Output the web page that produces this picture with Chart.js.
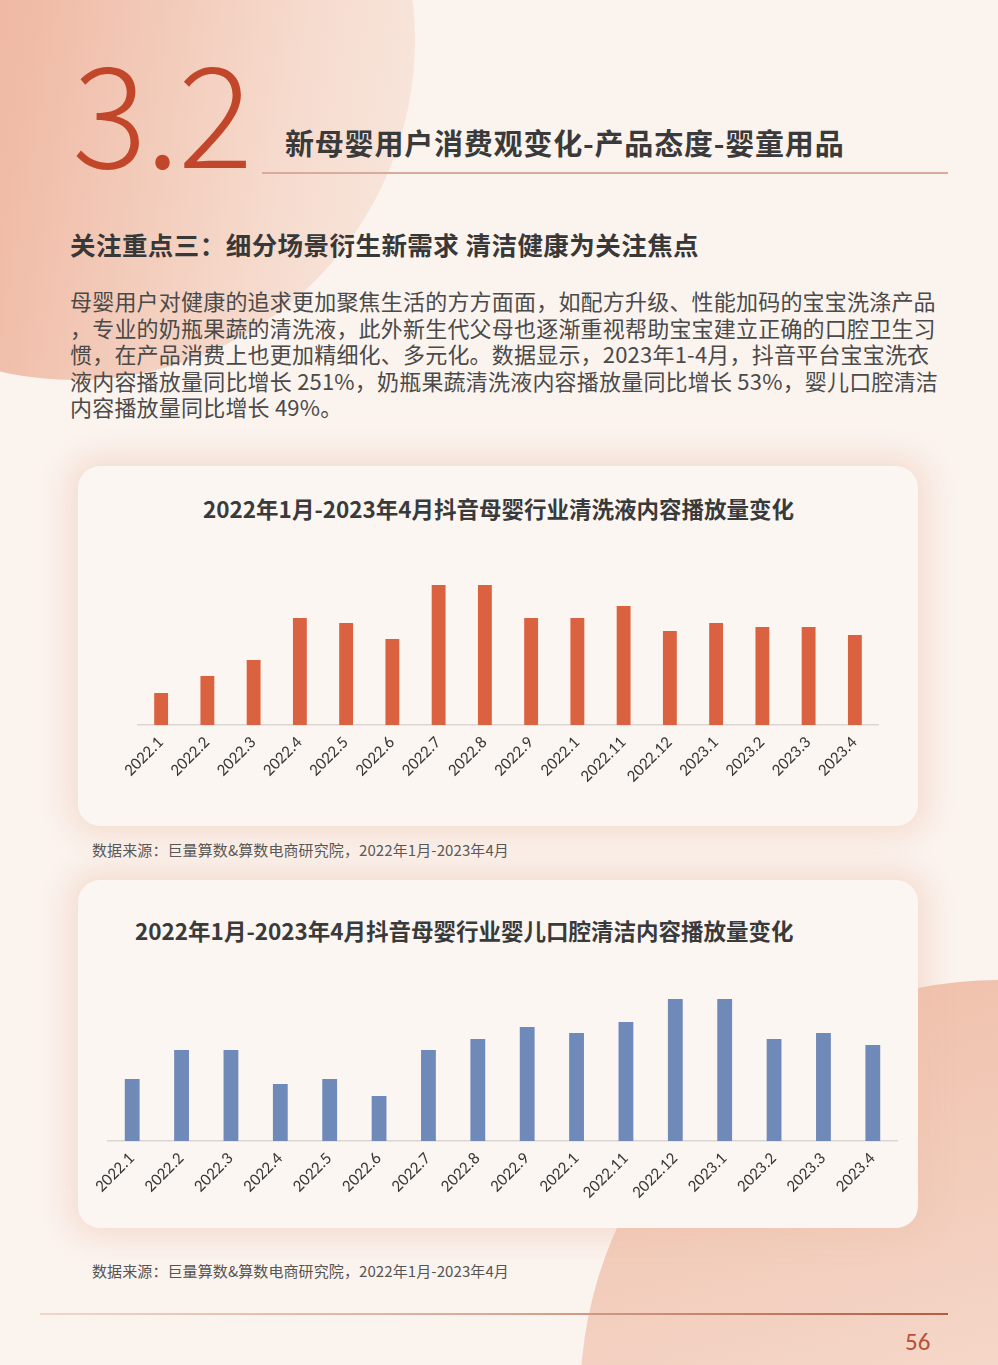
<!DOCTYPE html>
<html>
<head>
<meta charset="utf-8">
<script src="https://cdn.jsdelivr.net/npm/chart.js@4"></script>
<style>
body{margin:0;background:#fbf3ee;}
#page{position:relative;width:998px;height:1365px;overflow:hidden;background:#fbf3ee;font-family:"Noto Sans CJK SC",sans-serif;}
.blob1{position:absolute;left:-265px;top:-300px;width:680px;height:680px;border-radius:50%;
  background:linear-gradient(100deg,#eba58c 0%,#f0bca7 45%,#f6dccf 80%,#f9e8df 100%);}
.blob2{position:absolute;left:580px;top:980px;width:840px;height:840px;border-radius:50%;
  background:linear-gradient(165deg,#efbda6 0%,#f3d0c0 35%,#f8e4d9 70%);}
.big{position:absolute;left:72px;top:27px;font-family:"Noto Sans CJK SC",sans-serif;font-weight:300;font-size:140px;line-height:160px;color:#c2462a;letter-spacing:-2px;}
.h1{position:absolute;left:285px;top:122px;font-size:29px;font-weight:bold;color:#3a3a3a;line-height:40px;white-space:nowrap;letter-spacing:0.8px;}
.hline{position:absolute;left:262px;top:172px;width:686px;height:2px;background:#d9ab99;}
.h2{position:absolute;left:70px;top:227px;font-size:25.5px;font-weight:bold;color:#383838;line-height:34px;white-space:nowrap;letter-spacing:0.45px;}
.para{position:absolute;left:70px;top:287px;font-size:22px;line-height:26.5px;color:#4a4a4a;white-space:nowrap;letter-spacing:0.2px;}
.card{position:absolute;left:78px;width:840px;border-radius:22px;background:#fcf6f2;
  box-shadow:0 0 28px 10px rgba(238,196,172,0.45);}
.ctitle{position:absolute;font-size:22.5px;font-weight:bold;color:#3a3a3a;white-space:nowrap;line-height:30px;}
.src{position:absolute;left:92px;font-size:15px;color:#555;white-space:nowrap;line-height:20px;letter-spacing:0.1px;}
canvas{position:absolute;}
.bline{position:absolute;left:40px;top:1313px;width:908px;height:2px;background:linear-gradient(90deg,#efd6cb,#d8a894 50%,#b35c40);}
.pnum{position:absolute;left:905px;top:1326px;font-family:Carlito,Lato,sans-serif;font-size:25px;color:#b5523a;line-height:32px;}
</style>
</head>
<body>
<div id="page">
  <div class="blob1"></div>
  <div class="blob2"></div>
  <div class="big">3.2</div>
  <div class="h1">新母婴用户消费观变化-产品态度-婴童用品</div>
  <div class="hline"></div>
  <div class="h2">关注重点三：细分场景衍生新需求 清洁健康为关注焦点</div>
  <div class="para">母婴用户对健康的追求更加聚焦生活的方方面面，如配方升级、性能加码的宝宝洗涤产品<br>，专业的奶瓶果蔬的清洗液，此外新生代父母也逐渐重视帮助宝宝建立正确的口腔卫生习<br>惯，在产品消费上也更加精细化、多元化。数据显示，2023年1-4月，抖音平台宝宝洗衣<br>液内容播放量同比增长 251%，奶瓶果蔬清洗液内容播放量同比增长 53%，婴儿口腔清洁<br>内容播放量同比增长 49%。</div>

  <div class="card" style="top:466px;height:360px;"></div>
  <div class="ctitle" style="left:203px;top:493px;">2022年1月-2023年4月抖音母婴行业清洗液内容播放量变化</div>
  <canvas id="chart1" width="800" height="255" style="left:100px;top:540px;"></canvas>
  <div class="src" style="top:840px;">数据来源：巨量算数&amp;算数电商研究院，2022年1月-2023年4月</div>

  <div class="card" style="top:880px;height:348px;"></div>
  <div class="ctitle" style="left:135px;top:915px;">2022年1月-2023年4月抖音母婴行业婴儿口腔清洁内容播放量变化</div>
  <canvas id="chart2" width="830" height="256" style="left:80px;top:955px;"></canvas>
  <div class="src" style="top:1261px;">数据来源：巨量算数&amp;算数电商研究院，2022年1月-2023年4月</div>

  <div class="bline"></div>
  <div class="pnum">56</div>
</div>
<script>
// months as labelled in the source (2022.10 shows as 2022.1)
var months = ['2022.1','2022.2','2022.3','2022.4','2022.5','2022.6','2022.7','2022.8','2022.9','2022.1','2022.11','2022.12','2023.1','2023.2','2023.3','2023.4'];
// relative play volume (no axis values shown)
var cleanerValues = [32, 49, 65, 107, 102, 86, 140, 140, 107, 107, 119, 94, 102, 98, 98, 90];
var oralValues = [62, 91, 91, 57, 62, 45, 91, 102, 114, 108, 119, 142, 142, 102, 108, 96];

function makeChart(id, values, color, yMax, pad){
    return new Chart(document.getElementById(id).getContext('2d'), {
        type: 'bar',
        data: {
            labels: months,
            datasets: [{
                data: values,
                backgroundColor: color,
                barPercentage: 0.3,
                categoryPercentage: 1.0
            }]
        },
        options: {
            responsive: false,
            animation: false,
            layout: { padding: pad },
            plugins: {
                legend: { display: false },
                tooltip: { enabled: false }
            },
            scales: {
                x: {
                    grid: { display: false },
                    border: { display: true, color: '#d9d6d4', width: 1.5 },
                    afterFit: function(scale){ scale.height = 70; },
                    ticks: {
                        autoSkip: false,
                        minRotation: 45,
                        maxRotation: 45,
                        padding: 0,
                        color: '#383838',
                        font: { family: "Carlito, Lato, sans-serif", size: 17 }
                    }
                },
                y: {
                    display: false,
                    min: 0,
                    max: yMax
                }
            }
        }
    });
}

makeChart('chart1', cleanerValues, '#da6240', 160, {left: 38, right: 22, top: 25, bottom: 0});
makeChart('chart2', oralValues, '#6f89b8', 162, {left: 27.5, right: 12.5, top: 24, bottom: 0});
</script>
</body>
</html>
